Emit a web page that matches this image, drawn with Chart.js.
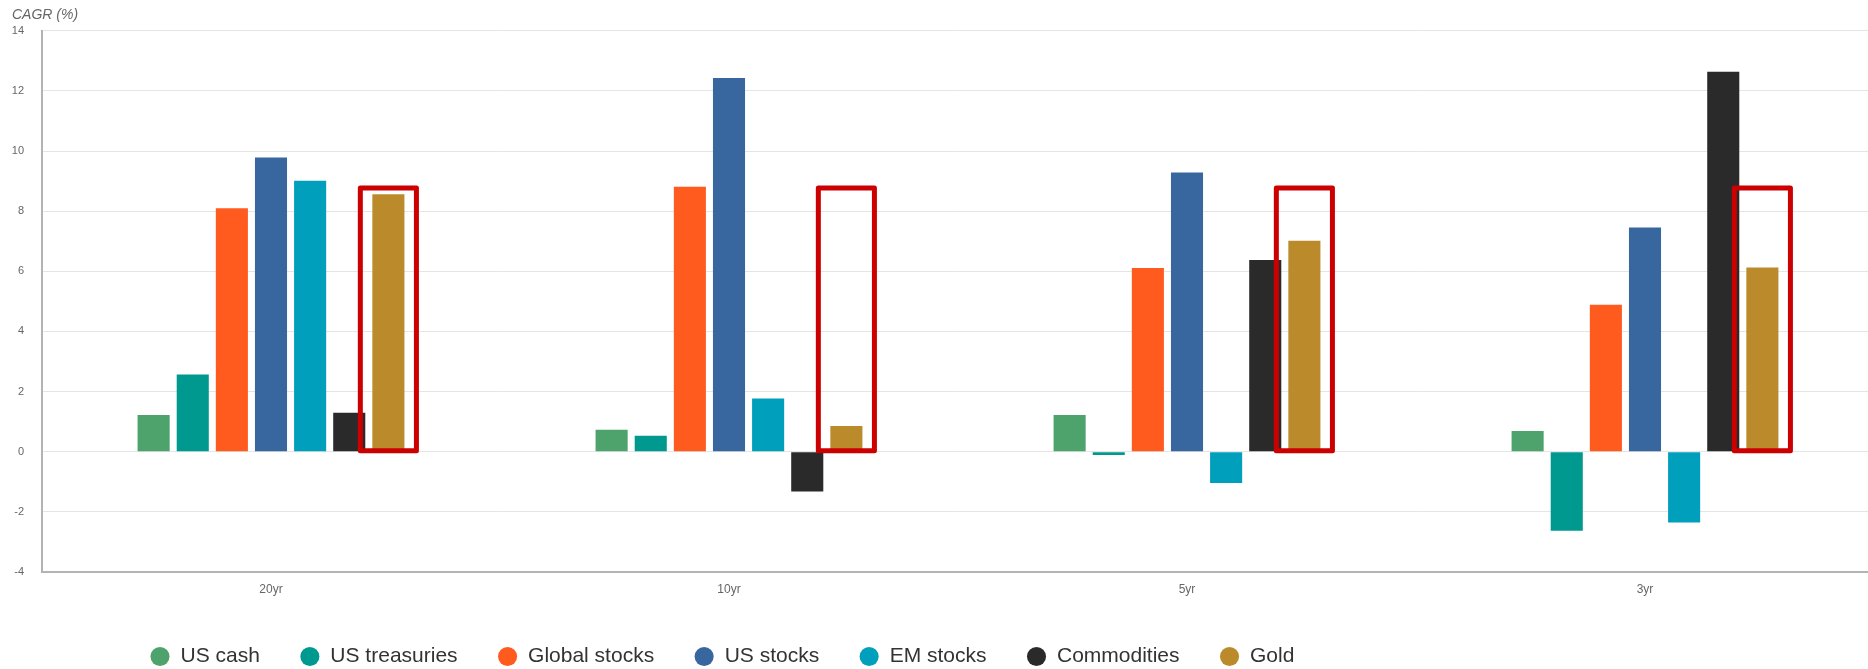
<!DOCTYPE html>
<html>
<head>
<meta charset="utf-8">
<script src="https://cdn.jsdelivr.net/npm/chart.js@4.4.1/dist/chart.umd.min.js"></script>
<style>
  html, body { margin: 0; padding: 0; background: #fff; overflow: hidden; }
  #wrap { width: 1874px; height: 669px; }
</style>
</head>
<body>
<div id="wrap"><canvas id="cagrChart"></canvas></div>
<script>
// ===== DATOS =====
const periodos = ['20yr', '10yr', '5yr', '3yr'];

const usCash       = [1.22, 0.73, 1.22, 0.69];
const usTreasuries = [2.57, 0.53, -0.11, -2.63];
const globalStocks = [8.10, 8.81, 6.11, 4.89];
const usStocks     = [9.79, 12.43, 9.29, 7.46];
const emStocks     = [9.01, 1.77, -1.04, -2.35];
const commodities  = [1.30, -1.32, 6.38, 12.64];
const gold         = [8.56, 0.86, 7.02, 6.13];

const yTicks = [-4, -2, 0, 2, 4, 6, 8, 10, 12, 14];
const goldBoxTop = 8.77;

Chart.defaults.font.family = "'Liberation Sans', Arial, sans-serif";

// caja roja alrededor de las barras de oro
const goldBoxes = {
    id: 'goldBoxes',
    afterDatasetsDraw(chart) {
        const meta = chart.getDatasetMeta(6);
        const y = chart.scales.y;
        const ctx = chart.ctx;
        const top = y.getPixelForValue(goldBoxTop);
        const bottom = y.getPixelForValue(0) - 1;
        ctx.save();
        ctx.strokeStyle = '#cc0000';
        ctx.lineWidth = 5;
        ctx.lineJoin = 'round';
        meta.data.forEach(bar => {
            const half = bar.width / 2 + 12;
            ctx.strokeRect(bar.x - half, top, half * 2, bottom - top);
        });
        ctx.restore();
    }
};

// leyenda: alto fijo y posicion a la izquierda
const legendPlacement = {
    id: 'legendPlacement',
    beforeLayout(chart) {
        const lg = chart.legend;
        if (lg && !lg._fitPatched) {
            const fit = lg.fit;
            lg.fit = function () { fit.call(this); this.height = 72; };
            lg._fitPatched = true;
        }
    },
    afterLayout(chart) {
        const lg = chart.legend;
        lg.left = 110;
        lg.top = 606;
    }
};

const bar = (label, data, color) => ({
    label: label,
    data: data,
    backgroundColor: color,
    borderWidth: 0,
    categoryPercentage: 0.598,
    barPercentage: 0.82
});

new Chart(document.getElementById('cagrChart'), {
    type: 'bar',
    data: {
        labels: periodos,
        datasets: [
            bar('US cash', usCash, '#4da36b'),
            bar('US treasuries', usTreasuries, '#00998f'),
            bar('Global stocks', globalStocks, '#ff5b1f'),
            bar('US stocks', usStocks, '#38669e'),
            bar('EM stocks', emStocks, '#00a0bc'),
            bar('Commodities', commodities, '#2a2a2a'),
            bar('Gold', gold, '#bb8b2b')
        ]
    },
    options: {
        responsive: true,
        maintainAspectRatio: false,
        animation: false,
        layout: { padding: { left: 12, right: 0, top: 0, bottom: 0 } },
        plugins: {
            title: {
                display: true,
                text: 'CAGR (%)',
                align: 'start',
                color: '#666',
                font: { size: 14, style: 'italic', weight: 'normal' },
                padding: { top: 7, bottom: 7 }
            },
            legend: {
                position: 'bottom',
                align: 'start',
                labels: {
                    usePointStyle: true,
                    pointStyle: 'circle',
                    boxWidth: 20,
                    boxHeight: 13.5,
                    padding: 40,
                    color: '#333',
                    font: { size: 21 }
                }
            },
            tooltip: { enabled: false }
        },
        scales: {
            x: {
                grid: { display: false, drawTicks: false },
                border: { display: true, color: '#b3b3b3', width: 2 },
                ticks: { color: '#666', font: { size: 12 }, padding: 10 },
                afterFit: axis => { axis.height = 25; }
            },
            y: {
                min: yTicks[0],
                max: yTicks[yTicks.length - 1],
                afterBuildTicks: axis => { axis.ticks = yTicks.map(v => ({ value: v })); },
                grid: { color: '#e5e5e5', lineWidth: 1, drawTicks: false },
                border: { display: true, color: '#b3b3b3', width: 2 },
                ticks: { color: '#666', font: { size: 11 }, padding: 18 },
                afterFit: axis => { axis.width = 30; }
            }
        }
    },
    plugins: [goldBoxes, legendPlacement]
});
</script>
</body>
</html>
